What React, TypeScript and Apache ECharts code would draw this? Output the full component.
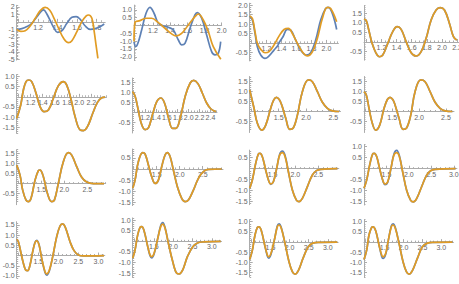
import React, { useEffect, useRef } from 'react';
import * as echarts from 'echarts';

type Pt = [number, number];

// ---- curve data (x, y) ----
const A_BLUE: Pt[] = [[0.98,-1.0],[1.033,-0.91],[1.085,-0.64],[1.136,-0.2],[1.188,0.69],[1.239,1.49],[1.256,1.58],[1.29,1.04],[1.325,0.16],[1.359,-0.73],[1.4,-1.4],[1.445,-1.18],[1.496,-0.2],[1.548,0.6],[1.592,0.69],[1.633,0.33],[1.685,-0.56],[1.736,-1.0],[1.788,-0.91],[1.839,-0.64],[1.88,-0.29]];
const A_ORANGE: Pt[] = [[0.98,-1.0],[1.023,-1.27],[1.068,-1.18],[1.119,-0.56],[1.171,0.47],[1.222,1.49],[1.273,1.93],[1.318,1.58],[1.359,0.6],[1.411,-0.87],[1.462,-2.2],[1.513,-2.78],[1.548,-2.51],[1.599,-1.31],[1.65,0.02],[1.695,0.78],[1.719,0.91],[1.753,0.47],[1.777,-1.31],[1.798,-3.3],[1.815,-4.87]];

const B_BLUE: Pt[] = [[0.98,-1.05],[1.0,-1.35],[1.025,-1.14],[1.069,-0.29],[1.12,0.78],[1.166,1.16],[1.213,0.78],[1.263,0.14],[1.321,-0.03],[1.379,-0.12],[1.437,-0.29],[1.496,-0.93],[1.534,-1.24],[1.573,-1.14],[1.631,-0.18],[1.689,0.67],[1.716,0.82],[1.767,0.46],[1.825,-0.61],[1.883,-1.67],[1.922,-1.88],[1.96,-1.78],[1.988,-1.03]];
const B_ORANGE: Pt[] = [[0.98,-1.03],[0.99,0.18],[1.05,0.31],[1.127,0.46],[1.185,0.46],[1.263,0.18],[1.34,-0.18],[1.418,-0.54],[1.468,-0.67],[1.534,-0.5],[1.612,0.03],[1.689,0.56],[1.728,0.73],[1.786,0.35],[1.844,-0.39],[1.902,-1.35],[1.99,-2.16]];

const C_BLUE: Pt[] = [[0.977,1.42],[1.013,1.21],[1.048,0.5],[1.079,-0.2],[1.124,-0.64],[1.181,-0.82],[1.235,-0.69],[1.301,-0.38],[1.35,-0.15],[1.368,0.01],[1.421,0.33],[1.479,0.72],[1.524,0.68],[1.59,0.15],[1.657,-0.38],[1.733,-0.64],[1.79,-0.52],[1.857,0.15],[1.924,1.21],[1.99,1.82],[2.026,1.88],[2.079,1.56],[2.137,0.71]];
const C_ORANGE: Pt[] = [[0.977,1.42],[1.013,1.29],[1.048,0.59],[1.079,-0.02],[1.124,-0.34],[1.181,-0.52],[1.235,-0.46],[1.301,-0.11],[1.368,0.36],[1.435,0.71],[1.493,0.77],[1.546,0.5],[1.613,-0.02],[1.688,-0.52],[1.746,-0.69],[1.813,-0.47],[1.879,0.24],[1.946,1.29],[2.013,1.88],[2.057,1.82],[2.137,1.12]];

const D_CURVE: Pt[] = [[0.97,1.2],[1.0,1.12],[1.033,0.63],[1.077,-0.07],[1.13,-0.59],[1.174,-0.77],[1.218,-0.68],[1.284,-0.07],[1.35,0.54],[1.408,0.8],[1.461,0.66],[1.527,0.02],[1.593,-0.56],[1.659,-0.73],[1.725,-0.5],[1.791,0.19],[1.857,1.15],[1.923,1.67],[1.976,1.79],[2.033,1.67],[2.099,0.97],[2.152,0.28],[2.196,0.1]];

const E_CURVE: Pt[] = [[0.971,-1.06],[1.037,-0.4],[1.081,0.34],[1.125,0.75],[1.169,0.83],[1.218,0.75],[1.29,0.17],[1.356,-0.48],[1.422,-0.73],[1.493,-0.65],[1.575,-0.07],[1.658,0.55],[1.74,0.75],[1.795,0.58],[1.861,-0.07],[1.933,-0.98],[2.015,-1.63],[2.07,-1.66],[2.136,-1.47],[2.224,-0.81],[2.301,-0.27],[2.372,-0.04],[2.427,-0.01]];

const F_CURVE: Pt[] = [[0.97,1.03],[1.019,0.78],[1.068,0.2],[1.129,-0.55],[1.202,-0.88],[1.264,-0.78],[1.337,-0.13],[1.417,0.53],[1.49,0.7],[1.557,0.45],[1.631,-0.3],[1.704,-0.82],[1.765,-0.82],[1.845,-0.3],[1.936,0.78],[2.028,1.45],[2.095,1.58],[2.17,1.42],[2.25,0.95],[2.33,0.45],[2.41,0.15],[2.5,0.02]];

const G_CURVE: Pt[] = [[0.97,1.08],[1.049,0.16],[1.11,-0.59],[1.19,-0.93],[1.263,-0.68],[1.354,0.16],[1.41,0.58],[1.46,0.71],[1.51,0.6],[1.555,0.33],[1.629,-0.34],[1.702,-0.89],[1.763,-0.84],[1.842,-0.18],[1.933,0.99],[2.043,1.58],[2.116,1.49],[2.208,0.99],[2.299,0.46],[2.391,0.16],[2.482,0.03],[2.604,0]];

const H_CURVE: Pt[] = [[0.975,0.99],[1.018,0.83],[1.068,0.16],[1.13,-0.59],[1.192,-0.93],[1.267,-0.68],[1.348,0.16],[1.41,0.6],[1.46,0.71],[1.51,0.6],[1.553,0.33],[1.627,-0.34],[1.702,-0.89],[1.764,-0.84],[1.845,-0.18],[1.925,0.99],[2.031,1.58],[2.112,1.49],[2.205,0.99],[2.298,0.46],[2.391,0.16],[2.484,0.03],[2.62,0]];

const I_CURVE: Pt[] = [[0.965,0.93],[1.037,0.43],[1.095,-0.32],[1.168,-0.82],[1.219,-0.9],[1.277,-0.73],[1.364,0.18],[1.436,0.65],[1.472,0.68],[1.545,0.35],[1.632,-0.48],[1.726,-0.9],[1.784,-0.82],[1.871,0.02],[1.979,1.1],[2.088,1.55],[2.161,1.43],[2.269,0.85],[2.378,0.32],[2.487,0.08],[2.632,0],[2.864,0]];

const J_CURVE: Pt[] = [[0.978,-0.87],[1.029,-0.5],[1.101,0.33],[1.196,0.74],[1.246,0.68],[1.319,0.18],[1.391,-0.35],[1.464,-0.65],[1.536,-0.5],[1.609,0.11],[1.681,0.63],[1.732,0.74],[1.79,0.56],[1.862,-0.05],[1.949,-0.8],[2.043,-1.32],[2.116,-1.47],[2.188,-1.4],[2.297,-0.95],[2.406,-0.42],[2.514,-0.12],[2.623,-0.02],[2.913,0]];

const K_ORANGE: Pt[] = [[1.0,-0.9],[1.058,-0.52],[1.131,0.24],[1.19,0.67],[1.226,0.7],[1.277,0.55],[1.35,-0.06],[1.423,-0.6],[1.46,-0.7],[1.518,-0.6],[1.591,0.02],[1.657,0.63],[1.715,0.73],[1.774,0.55],[1.847,-0.14],[1.934,-0.98],[2.022,-1.44],[2.08,-1.51],[2.153,-1.36],[2.263,-0.82],[2.372,-0.29],[2.46,-0.09],[2.555,-0.03],[2.92,0]];
const K_BLUE: Pt[] = [[1.0,-0.9],[1.058,-0.52],[1.131,0.24],[1.19,0.67],[1.226,0.7],[1.277,0.55],[1.35,-0.06],[1.423,-0.6],[1.46,-0.72],[1.518,-0.6],[1.591,0.02],[1.657,0.66],[1.715,0.8],[1.774,0.6],[1.847,-0.14],[1.934,-0.98],[2.022,-1.44],[2.08,-1.51],[2.153,-1.36],[2.263,-0.82],[2.372,-0.29],[2.46,-0.09],[2.555,-0.03],[2.92,0]];

const L_ORANGE: Pt[] = [[1.0,-0.89],[1.059,-0.52],[1.134,0.24],[1.193,0.67],[1.23,0.7],[1.282,0.55],[1.356,-0.06],[1.431,-0.6],[1.468,-0.7],[1.527,-0.6],[1.601,0.02],[1.668,0.63],[1.728,0.73],[1.787,0.55],[1.861,-0.14],[1.95,-0.98],[2.04,-1.44],[2.099,-1.51],[2.173,-1.36],[2.284,-0.82],[2.396,-0.29],[2.485,-0.09],[2.581,-0.03],[3.04,0]];
const L_BLUE: Pt[] = [[1.0,-0.89],[1.059,-0.52],[1.134,0.24],[1.193,0.67],[1.23,0.7],[1.282,0.55],[1.356,-0.06],[1.431,-0.62],[1.468,-0.73],[1.527,-0.62],[1.601,0.02],[1.668,0.67],[1.728,0.83],[1.787,0.6],[1.861,-0.14],[1.95,-0.98],[2.04,-1.44],[2.099,-1.51],[2.173,-1.36],[2.284,-0.82],[2.396,-0.29],[2.485,-0.09],[2.581,-0.03],[3.04,0]];

const M_ORANGE: Pt[] = [[0.958,0.8],[1.0,0.68],[1.058,0.19],[1.125,-0.38],[1.183,-0.71],[1.233,-0.74],[1.291,-0.46],[1.358,0.19],[1.416,0.63],[1.458,0.72],[1.516,0.52],[1.583,-0.14],[1.666,-0.79],[1.708,-0.9],[1.775,-0.71],[1.858,-0.05],[1.958,0.93],[2.041,1.45],[2.1,1.55],[2.166,1.42],[2.291,0.68],[2.391,0.24],[2.5,0.03],[2.625,-0.02],[3.14,0]];
const M_BLUE: Pt[] = [[0.958,0.8],[1.0,0.68],[1.058,0.19],[1.125,-0.38],[1.183,-0.71],[1.233,-0.74],[1.291,-0.46],[1.358,0.19],[1.416,0.65],[1.458,0.75],[1.516,0.54],[1.583,-0.14],[1.666,-0.83],[1.708,-0.96],[1.775,-0.74],[1.858,-0.05],[1.958,0.93],[2.041,1.45],[2.1,1.55],[2.166,1.42],[2.291,0.68],[2.391,0.24],[2.5,0.03],[2.625,-0.02],[3.14,0]];

const N_ORANGE: Pt[] = [[0.956,-0.8],[1.016,-0.41],[1.085,0.3],[1.146,0.66],[1.189,0.69],[1.249,0.5],[1.335,-0.17],[1.404,-0.64],[1.447,-0.72],[1.508,-0.56],[1.594,0.06],[1.68,0.69],[1.732,0.81],[1.792,0.61],[1.878,-0.09],[1.99,-0.95],[2.094,-1.5],[2.163,-1.53],[2.249,-1.34],[2.37,-0.72],[2.508,-0.25],[2.628,-0.08],[2.784,-0.03],[3.232,0]];
const N_BLUE: Pt[] = [[0.956,-0.8],[1.016,-0.41],[1.085,0.3],[1.146,0.66],[1.189,0.69],[1.249,0.5],[1.335,-0.17],[1.404,-0.68],[1.447,-0.78],[1.508,-0.6],[1.594,0.06],[1.68,0.74],[1.732,0.88],[1.792,0.65],[1.878,-0.09],[1.99,-0.95],[2.094,-1.5],[2.163,-1.53],[2.249,-1.34],[2.37,-0.72],[2.508,-0.25],[2.628,-0.08],[2.784,-0.03],[3.232,0]];

const O_ORANGE: Pt[] = [[0.956,-0.85],[1.026,-0.39],[1.095,0.35],[1.157,0.72],[1.2,0.75],[1.261,0.56],[1.348,-0.14],[1.418,-0.63],[1.453,-0.72],[1.514,-0.55],[1.601,0.1],[1.68,0.75],[1.723,0.84],[1.784,0.67],[1.88,-0.06],[1.985,-0.96],[2.072,-1.45],[2.142,-1.57],[2.229,-1.4],[2.351,-0.8],[2.49,-0.23],[2.612,-0.05],[2.769,-0.01],[3.249,0]];
const O_BLUE: Pt[] = [[0.956,-0.85],[1.026,-0.39],[1.095,0.35],[1.157,0.72],[1.2,0.75],[1.261,0.56],[1.348,-0.14],[1.418,-0.68],[1.453,-0.79],[1.514,-0.6],[1.601,0.1],[1.68,0.8],[1.723,0.9],[1.784,0.71],[1.88,-0.06],[1.985,-0.96],[2.072,-1.45],[2.142,-1.57],[2.229,-1.4],[2.351,-0.8],[2.49,-0.23],[2.612,-0.05],[2.769,-0.01],[3.249,0]];

const P_ORANGE: Pt[] = [[0.955,-0.85],[1.026,-0.39],[1.087,0.35],[1.158,0.72],[1.193,0.75],[1.264,0.56],[1.352,-0.14],[1.423,-0.63],[1.458,-0.72],[1.529,-0.55],[1.599,0.1],[1.679,0.75],[1.723,0.84],[1.785,0.67],[1.882,-0.06],[1.988,-0.96],[2.076,-1.45],[2.147,-1.57],[2.235,-1.4],[2.367,-0.8],[2.5,-0.23],[2.632,-0.05],[2.782,-0.01],[3.294,0]];
const P_BLUE: Pt[] = [[0.955,-0.85],[1.026,-0.39],[1.087,0.35],[1.158,0.72],[1.193,0.75],[1.264,0.56],[1.352,-0.14],[1.423,-0.7],[1.458,-0.8],[1.529,-0.6],[1.599,0.1],[1.679,0.8],[1.723,0.9],[1.785,0.71],[1.882,-0.06],[1.988,-0.96],[2.076,-1.45],[2.147,-1.57],[2.235,-1.4],[2.367,-0.8],[2.5,-0.23],[2.632,-0.05],[2.782,-0.01],[3.294,0]];

// ---- tick labels ----
const XT_A = [1.2, 1.4, 1.6, 1.8];
const XT_BC = [1.2, 1.4, 1.6, 1.8, 2.0];
const XT_DE = [1.2, 1.4, 1.6, 1.8, 2.0, 2.2];
const XT_F = [1.2, 1.4, 1.6, 1.8, 2.0, 2.2, 2.4];
const XT_HALF3 = [1.5, 2.0, 2.5];
const XT_HALF4 = [1.5, 2.0, 2.5, 3.0];

const YT_A = [2, 1, -1, -2, -3, -4, -5];
const YT_B = [1.0, 0.5, -0.5, -1.0, -1.5, -2.0];
const YT_C = [2.0, 1.5, 1.0, 0.5, -0.5];
const YT_D = [1.5, 1.0, 0.5, -0.5];
const YT_E = [1.0, 0.5, -0.5, -1.0, -1.5];
const YT_JK = [0.5, -0.5, -1.0, -1.5];
const YT_M = [1.5, 1.0, 0.5, -0.5, -1.0];

// ---- panels: data + axis ranges ----
const PANELS = [
  { blue: A_BLUE, orange: A_ORANGE, xt: XT_A, yt: YT_A, xr: [0.98, 1.89], yr: [-5.1, 2.2] },
  { blue: B_BLUE, orange: B_ORANGE, xt: XT_BC, yt: YT_B, xr: [0.98, 2.0], yr: [-2.2, 1.3] },
  { blue: C_BLUE, orange: C_ORANGE, xt: XT_BC, yt: YT_C, xr: [0.977, 2.16], yr: [-0.95, 2.1] },
  { blue: D_CURVE, orange: D_CURVE, xt: XT_DE, yt: YT_D, xr: [0.97, 2.22], yr: [-0.95, 1.9] },
  { blue: E_CURVE, orange: E_CURVE, xt: XT_DE, yt: YT_E, xr: [0.971, 2.45], yr: [-1.8, 1.1] },
  { blue: F_CURVE, orange: F_CURVE, xt: XT_F, yt: YT_D, xr: [0.97, 2.52], yr: [-1.05, 1.7] },
  { blue: G_CURVE, orange: G_CURVE, xt: XT_HALF3, yt: YT_D, xr: [0.97, 2.63], yr: [-1.05, 1.75] },
  { blue: H_CURVE, orange: H_CURVE, xt: XT_HALF3, yt: YT_D, xr: [0.975, 2.65], yr: [-1.05, 1.75] },
  { blue: I_CURVE, orange: I_CURVE, xt: XT_HALF3, yt: YT_D, xr: [0.965, 2.9], yr: [-1.05, 1.7] },
  { blue: J_CURVE, orange: J_CURVE, xt: XT_HALF3, yt: YT_JK, xr: [0.978, 2.94], yr: [-1.65, 0.9] },
  { blue: K_BLUE, orange: K_ORANGE, xt: XT_HALF3, yt: YT_JK, xr: [1.0, 2.95], yr: [-1.65, 0.85] },
  { blue: L_BLUE, orange: L_ORANGE, xt: XT_HALF4, yt: YT_E, xr: [1.0, 3.07], yr: [-1.65, 1.1] },
  { blue: M_BLUE, orange: M_ORANGE, xt: XT_HALF4, yt: YT_M, xr: [0.958, 3.16], yr: [-1.1, 1.66] },
  { blue: N_BLUE, orange: N_ORANGE, xt: XT_HALF4, yt: YT_E, xr: [0.956, 3.25], yr: [-1.7, 1.1] },
  { blue: O_BLUE, orange: O_ORANGE, xt: XT_HALF4, yt: YT_E, xr: [0.956, 3.27], yr: [-1.7, 1.1] },
  { blue: P_BLUE, orange: P_ORANGE, xt: XT_HALF4, yt: YT_E, xr: [0.955, 3.32], yr: [-1.7, 1.1] },
];

// ---- layout (pixel boxes of each plot area) ----
const LAYOUT = [
  { left: 16.7, top: 5.3, width: 88.5, height: 54.8 },
  { left: 134, top: 5.1, width: 87.7, height: 54.8 },
  { left: 249.7, top: 3.2, width: 88.7, height: 57.7 },
  { left: 364, top: 5.6, width: 94.6, height: 54.6 },
  { left: 16.7, top: 74.5, width: 89.8, height: 58.9 },
  { left: 132.5, top: 78, width: 84.5, height: 55 },
  { left: 249.7, top: 76.5, width: 90.8, height: 56 },
  { left: 364, top: 76.5, width: 90, height: 56 },
  { left: 16.7, top: 149.7, width: 89, height: 55 },
  { left: 132.7, top: 149, width: 90.3, height: 56.6 },
  { left: 249.7, top: 150.1, width: 89.1, height: 54.6 },
  { left: 364, top: 144.5, width: 92.9, height: 60.5 },
  { left: 16.7, top: 221.7, width: 88.1, height: 56.3 },
  { left: 132.7, top: 217.9, width: 88.8, height: 59.6 },
  { left: 249.7, top: 219.7, width: 88.4, height: 57.1 },
  { left: 364, top: 219.7, width: 89.4, height: 57.1 },
];

const BLUE = '#5E81B5';
const ORANGE = '#E19C24';
const AXIS = '#ababab';
const TXT = '#666666';
const FONT = '"Liberation Sans", Arial, sans-serif';

function stepOf(t: number[]): number {
  const s = [...t].sort((a, b) => a - b);
  let m = Infinity;
  for (let i = 1; i < s.length; i++) m = Math.min(m, s[i] - s[i - 1]);
  return Math.round(m * 1000) / 1000;
}

function minorValues(r: number[], step: number): number[] {
  const ms = step >= 1 ? 0.2 : step >= 0.5 ? 0.1 : 0.05;
  const out: number[] = [];
  const start = Math.ceil(r[0] / ms - 1e-9);
  const end = Math.floor(r[1] / ms + 1e-9);
  for (let k = start; k <= end; k++) {
    const v = Math.round(k * ms * 1000) / 1000;
    const q = v / step;
    if (Math.abs(q - Math.round(q)) < 1e-6) continue;
    out.push(v);
  }
  return out;
}

function majorValues(t: number[], extra: number, r: number[]): number[] {
  const out = [...t];
  if (extra >= r[0] && extra <= r[1]) out.push(extra);
  return out.sort((a, b) => a - b);
}

function buildOption() {
  const grid: any[] = [];
  const xAxis: any[] = [];
  const yAxis: any[] = [];
  const series: any[] = [];
  PANELS.forEach((p, i) => {
    const lay = LAYOUT[i];
    grid.push({ left: lay.left, top: lay.top, width: lay.width, height: lay.height, containLabel: false, outerBoundsMode: 'none' });
    const xs = stepOf(p.xt);
    const ys = stepOf(p.yt);
    const lineStyle = { color: AXIS, width: 1 };
    // the horizontal axis crosses at y = 0: shift it up from the grid bottom
    const zeroOffset = -((0 - p.yr[0]) / (p.yr[1] - p.yr[0])) * lay.height;
    xAxis.push({
      type: 'value', gridIndex: i, min: p.xr[0], max: p.xr[1], position: 'bottom', offset: zeroOffset,
      axisLine: { show: true, onZero: false, lineStyle },
      axisTick: { show: true, inside: true, length: 3, customValues: majorValues(p.xt, 1.0, p.xr), lineStyle },
      axisLabel: { show: true, customValues: p.xt, formatter: (v: number) => v.toFixed(1), fontSize: 7, color: TXT, margin: 2, fontFamily: FONT },
      splitLine: { show: false },
    });
    xAxis.push({
      type: 'value', gridIndex: i, min: p.xr[0], max: p.xr[1], position: 'bottom', offset: zeroOffset,
      axisLine: { show: false, onZero: false },
      axisTick: { show: true, inside: true, length: 1.5, customValues: minorValues(p.xr, xs), lineStyle },
      axisLabel: { show: false },
      splitLine: { show: false },
    });
    yAxis.push({
      type: 'value', gridIndex: i, min: p.yr[0], max: p.yr[1], position: 'left',
      axisLine: { show: true, onZero: false, lineStyle },
      axisTick: { show: true, inside: true, length: 3, customValues: majorValues(p.yt, 0, p.yr), lineStyle },
      axisLabel: {
        show: true, customValues: p.yt,
        formatter: (v: number) => (ys >= 1 ? String(Math.round(v)) : v.toFixed(1)),
        fontSize: 7, color: TXT, margin: 2, fontFamily: FONT,
      },
      splitLine: { show: false },
    });
    yAxis.push({
      type: 'value', gridIndex: i, min: p.yr[0], max: p.yr[1], position: 'left',
      axisLine: { show: false, onZero: false },
      axisTick: { show: true, inside: true, length: 1.5, customValues: minorValues(p.yr, ys), lineStyle },
      axisLabel: { show: false },
      splitLine: { show: false },
    });
    series.push({
      type: 'line', xAxisIndex: 2 * i, yAxisIndex: 2 * i, data: p.blue,
      showSymbol: false, symbol: 'none', smooth: 0.4, silent: true, z: 2,
      lineStyle: { color: BLUE, width: 1.7 },
    });
    series.push({
      type: 'line', xAxisIndex: 2 * i, yAxisIndex: 2 * i, data: p.orange,
      showSymbol: false, symbol: 'none', smooth: 0.4, silent: true, z: 3,
      lineStyle: { color: ORANGE, width: 1.7 },
    });
  });
  return { animation: false, backgroundColor: '#ffffff', grid, xAxis, yAxis, series };
}

export default function App() {
  const ref = useRef<HTMLDivElement>(null);
  useEffect(() => {
    document.body.style.margin = '0';
    if (!ref.current) return;
    const chart = echarts.init(ref.current, undefined, { renderer: 'svg' });
    chart.setOption(buildOption() as any);
    return () => chart.dispose();
  }, []);
  return <div ref={ref} style={{ width: 459, height: 284 }} />;
}
